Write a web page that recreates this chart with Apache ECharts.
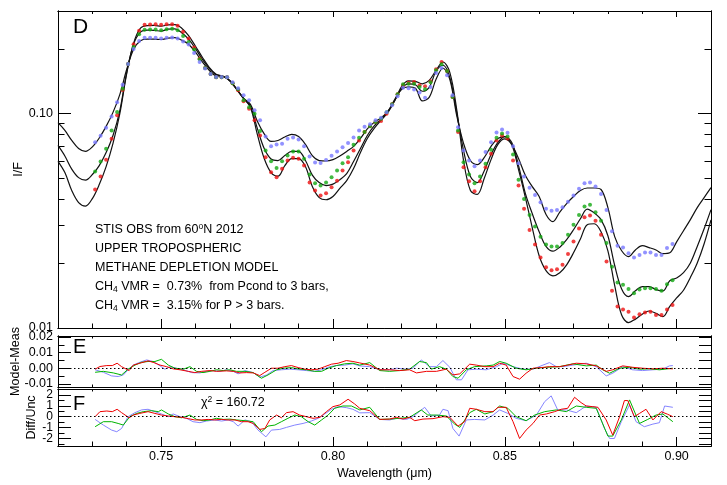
<!DOCTYPE html>
<html><head><meta charset="utf-8">
<script src="https://cdn.jsdelivr.net/npm/echarts@6.0.0/dist/echarts.min.js"></script>
<style>html,body{margin:0;padding:0;background:#fff}#c{width:727px;height:485px}</style>
</head><body><div id="c"></div>
<script>
// ---------- DATA ----------
const dotWl = [0.7308,0.7324,0.7340,0.7356,0.7372,0.7388,0.7404,0.7420,0.7436,0.7452,
0.7468,0.7484,0.7500,0.7516,0.7532,0.7548,0.7564,0.7580,0.7596,0.7612,
0.7628,0.7644,0.7660,0.7676,0.7692,0.7708,0.7724,0.7740,0.7756,0.7772,
0.7788,0.7804,0.7820,0.7836,0.7852,0.7868,0.7884,0.7900,0.7916,0.7932,
0.7948,0.7964,0.7980,0.7996,0.8012,0.8028,0.8044,0.8060,0.8076,0.8092,
0.8108,0.8124,0.8140,0.8156,0.8172,0.8188,0.8204,0.8220,0.8236,0.8252,
0.8268,0.8284,0.8300,0.8316,0.8332,0.8348,0.8364,0.8380,0.8396,0.8412,
0.8428,0.8444,0.8460,0.8476,0.8492,0.8508,0.8524,0.8540,0.8556,0.8572,
0.8588,0.8604,0.8620,0.8636,0.8652,0.8668,0.8684,0.8700,0.8716,0.8732,
0.8748,0.8764,0.8780,0.8796,0.8812,0.8828,0.8844,0.8860,0.8876,0.8892,
0.8908,0.8924,0.8940,0.8956,0.8972,0.8988];

const obsRed = [0.0442,0.0508,0.0608,0.0761,0.0979,0.1285,0.1699,0.2101,0.2425,0.2586,
0.2597,0.2600,0.2586,0.2600,0.2605,0.2558,0.2399,0.2234,0.2028,0.1800,
0.1628,0.1526,0.1473,0.1473,0.1473,0.1381,0.1281,0.1138,0.1052,0.0928,
0.0789,0.0625,0.0532,0.0504,0.0552,0.0603,0.0621,0.0614,0.0571,0.0477,
0.0437,0.0414,0.0424,0.0453,0.0486,0.0542,0.0592,0.0672,0.0748,0.0818,
0.0870,0.0911,0.0921,0.0997,0.1102,0.1227,0.1351,0.1391,0.1400,0.1351,
0.1337,0.1411,0.1605,0.1736,0.1577,0.1192,0.0818,0.0561,0.0483,0.0434,
0.0483,0.0561,0.0648,0.0748,0.0789,0.0764,0.0603,0.0461,0.0359,0.0286,
0.0245,0.0213,0.0192,0.0186,0.0188,0.0197,0.0221,0.0253,0.0291,0.0328,
0.0334,0.0316,0.0272,0.0204,0.0149,0.0126,0.0122,0.0119,0.0112,0.0116,
0.0118,0.0119,0.0115,0.0115,0.0122,0.0128];

const obsGreen = [0.0536,0.0597,0.0684,0.0833,0.1014,0.1304,0.1699,0.2040,0.2340,0.2451,
0.2461,0.2461,0.2443,0.2469,0.2478,0.2443,0.2297,0.2154,0.1985,0.1787,
0.1628,0.1526,0.1473,0.1473,0.1473,0.1381,0.1295,0.1150,0.1069,0.0997,
0.0827,0.0672,0.0598,0.0557,0.0598,0.0636,0.0665,0.0665,0.0614,0.0519,
0.0472,0.0461,0.0477,0.0504,0.0542,0.0585,0.0625,0.0714,0.0769,0.0818,
0.0870,0.0911,0.0945,0.1011,0.1102,0.1227,0.1366,0.1376,0.1376,0.1326,
0.1295,0.1396,0.1588,0.1694,0.1577,0.1192,0.0833,0.0592,0.0519,0.0472,
0.0508,0.0582,0.0677,0.0769,0.0806,0.0780,0.0643,0.0491,0.0399,0.0336,
0.0297,0.0266,0.0245,0.0240,0.0240,0.0249,0.0272,0.0303,0.0336,0.0368,
0.0375,0.0346,0.0316,0.0249,0.0193,0.0163,0.0159,0.0152,0.0145,0.0151,
0.0153,0.0153,0.0152,0.0149,0.0160,0.0167];

const obsBlue = [0.0734,0.0786,0.0858,0.0968,0.1126,0.1361,0.1699,0.1998,0.2177,0.2249,
0.2249,0.2249,0.2235,0.2249,0.2259,0.2235,0.2163,0.2094,0.1913,0.1736,
0.1617,0.1526,0.1478,0.1478,0.1473,0.1396,0.1309,0.1214,0.1150,0.1033,
0.0928,0.0780,0.0702,0.0717,0.0722,0.0761,0.0772,0.0756,0.0702,0.0630,
0.0590,0.0587,0.0606,0.0634,0.0665,0.0696,0.0728,0.0772,0.0833,0.0866,
0.0889,0.0928,0.0954,0.1011,0.1090,0.1201,0.1316,0.1310,0.1291,0.1250,
0.1184,0.1326,0.1542,0.1628,0.1505,0.1214,0.0863,0.0672,0.0603,0.0567,
0.0603,0.0660,0.0734,0.0815,0.0842,0.0812,0.0702,0.0585,0.0508,0.0450,
0.0417,0.0385,0.0359,0.0352,0.0355,0.0365,0.0388,0.0414,0.0445,0.0472,
0.0477,0.0456,0.0421,0.0355,0.0282,0.0242,0.0237,0.0223,0.0213,0.0219,
0.0225,0.0225,0.0219,0.0219,0.0236,0.0246];

const modelWl = [0.720,0.722,0.724,0.726,0.728,0.730,0.732,0.734,0.736,0.738,
0.740,0.742,0.744,0.746,0.748,0.750,0.752,0.754,0.756,0.758,
0.760,0.762,0.764,0.766,0.768,0.770,0.772,0.774,0.776,0.778,
0.780,0.782,0.784,0.786,0.788,0.790,0.792,0.794,0.796,0.798,
0.800,0.802,0.804,0.806,0.808,0.810,0.812,0.814,0.816,0.818,
0.820,0.822,0.824,0.826,0.828,0.830,0.832,0.834,0.836,0.838,
0.840,0.842,0.844,0.846,0.848,0.850,0.852,0.854,0.856,0.858,
0.860,0.862,0.864,0.866,0.868,0.870,0.872,0.874,0.876,0.878,
0.880,0.882,0.884,0.886,0.888,0.890,0.892,0.894,0.896,0.898,
0.900,0.902,0.904,0.906,0.908,0.910];

const modelBlue = [0.0905,0.0833,0.0748,0.0686,0.0665,0.0698,0.0768,0.0870,0.1011,0.1227,
0.1605,0.1991,0.2182,0.2217,0.2217,0.2210,0.2241,0.2253,0.2194,0.2101,
0.1928,0.1740,0.1588,0.1497,0.1489,0.1419,0.1295,0.1175,0.1102,0.0918,
0.0802,0.0740,0.0748,0.0776,0.0798,0.0780,0.0717,0.0636,0.0603,0.0600,
0.0609,0.0633,0.0665,0.0702,0.0764,0.0847,0.0908,0.0953,0.1022,0.1163,
0.1295,0.1329,0.1309,0.1143,0.1188,0.1441,0.1623,0.1441,0.0979,0.0725,
0.0603,0.0577,0.0622,0.0702,0.0764,0.0780,0.0717,0.0616,0.0513,0.0456,
0.0410,0.0338,0.0313,0.0347,0.0380,0.0410,0.0437,0.0449,0.0449,0.0442,
0.0364,0.0266,0.0229,0.0215,0.0231,0.0242,0.0237,0.0231,0.0222,0.0224,
0.0252,0.0284,0.0320,0.0364,0.0405,0.0451];

const modelGreen = [0.0709,0.0633,0.0550,0.0502,0.0489,0.0519,0.0571,0.0657,0.0789,0.1033,
0.1554,0.2101,0.2391,0.2443,0.2435,0.2417,0.2469,0.2478,0.2378,0.2217,
0.2002,0.1787,0.1623,0.1513,0.1489,0.1419,0.1295,0.1175,0.1078,0.0851,
0.0686,0.0613,0.0603,0.0636,0.0665,0.0665,0.0603,0.0516,0.0476,0.0461,
0.0468,0.0491,0.0524,0.0597,0.0686,0.0789,0.0874,0.0938,0.1022,0.1150,
0.1309,0.1374,0.1359,0.1268,0.1323,0.1571,0.1676,0.1473,0.1011,0.0672,
0.0508,0.0476,0.0539,0.0643,0.0733,0.0780,0.0733,0.0571,0.0423,0.0341,
0.0281,0.0240,0.0228,0.0238,0.0258,0.0287,0.0323,0.0358,0.0344,0.0320,
0.0269,0.0195,0.0152,0.0140,0.0149,0.0156,0.0156,0.0151,0.0149,0.0166,
0.0171,0.0181,0.0201,0.0240,0.0290,0.0356];

const modelRed = [0.0598,0.0530,0.0437,0.0384,0.0370,0.0401,0.0466,0.0565,0.0725,0.1000,
0.1537,0.2124,0.2495,0.2564,0.2569,0.2550,0.2583,0.2591,0.2495,0.2302,
0.2056,0.1826,0.1640,0.1521,0.1489,0.1419,0.1295,0.1175,0.1066,0.0798,
0.0616,0.0530,0.0510,0.0571,0.0616,0.0616,0.0565,0.0456,0.0405,0.0396,
0.0410,0.0447,0.0486,0.0553,0.0657,0.0764,0.0851,0.0928,0.1011,0.1150,
0.1337,0.1419,0.1411,0.1374,0.1426,0.1588,0.1736,0.1554,0.1044,0.0603,
0.0437,0.0419,0.0497,0.0609,0.0717,0.0760,0.0717,0.0547,0.0405,0.0293,
0.0217,0.0185,0.0175,0.0181,0.0197,0.0224,0.0260,0.0303,0.0306,0.0281,
0.0229,0.0157,0.0115,0.0106,0.0110,0.0116,0.0120,0.0117,0.0113,0.0126,
0.0138,0.0150,0.0172,0.0201,0.0247,0.0319];

// Panel E: model - measurement  [wavelength, value]
const eRed = [[0.7308,-0.0006],[0.7322,0.0011],[0.7342,0.0017],[0.7358,0.0017],[0.7372,0.0032],[0.7385,0.0010],[0.7407,-0.0015],[0.7419,0.0020],[0.7438,0.0032],[0.7462,0.0047],[0.7479,0.0036],[0.7497,0.0020],[0.7516,0.0010],[0.7535,-0.0004],[0.7555,-0.0010],[0.7579,-0.0020],[0.7598,-0.0028],[0.7618,-0.0020],[0.7642,-0.0015],[0.7661,-0.0020],[0.7690,-0.0017],[0.7710,-0.0020],[0.7729,-0.0030],[0.7749,-0.0028],[0.7768,-0.0030],[0.7787,-0.0047],[0.7802,-0.0026],[0.7821,0.0000],[0.7840,0.0000],[0.7860,0.0010],[0.7879,0.0017],[0.7899,0.0004],[0.7918,-0.0006],[0.7937,-0.0010],[0.7957,-0.0006],[0.7976,0.0010],[0.7996,0.0026],[0.8015,0.0032],[0.8039,0.0049],[0.8058,0.0043],[0.8078,0.0034],[0.8107,0.0020],[0.8136,-0.0010],[0.8165,-0.0010],[0.8194,-0.0015],[0.8223,-0.0010],[0.8243,-0.0030],[0.8272,-0.0020],[0.8301,-0.0020],[0.8330,-0.0006],[0.8349,-0.0043],[0.8369,-0.0036],[0.8398,0.0026],[0.8417,0.0020],[0.8442,0.0010],[0.8466,0.0010],[0.8485,0.0032],[0.8504,0.0020],[0.8524,-0.0053],[0.8543,-0.0070],[0.8562,-0.0032],[0.8582,0.0000],[0.8606,0.0004],[0.8630,0.0010],[0.8659,0.0010],[0.8683,0.0020],[0.8708,0.0032],[0.8737,0.0028],[0.8766,0.0015],[0.8795,-0.0020],[0.8814,-0.0010],[0.8843,0.0015],[0.8872,0.0006],[0.8901,0.0000],[0.8931,-0.0004],[0.8960,0.0000],[0.8989,-0.0004]];

const eGreen = [[0.7308,-0.0026],[0.7332,-0.0020],[0.7361,-0.0030],[0.7385,-0.0043],[0.7404,-0.0006],[0.7424,0.0020],[0.7443,0.0038],[0.7462,0.0043],[0.7482,0.0043],[0.7501,0.0057],[0.7521,0.0020],[0.7540,0.0000],[0.7565,-0.0006],[0.7584,0.0010],[0.7603,-0.0020],[0.7622,-0.0028],[0.7642,-0.0020],[0.7661,-0.0010],[0.7681,-0.0015],[0.7700,-0.0010],[0.7719,-0.0020],[0.7744,-0.0020],[0.7768,-0.0028],[0.7792,-0.0064],[0.7811,-0.0043],[0.7836,-0.0010],[0.7855,0.0000],[0.7879,0.0004],[0.7903,-0.0006],[0.7923,-0.0010],[0.7947,-0.0020],[0.7967,-0.0020],[0.7986,0.0000],[0.8010,0.0017],[0.8034,0.0028],[0.8058,0.0032],[0.8078,0.0020],[0.8107,0.0036],[0.8136,-0.0015],[0.8165,-0.0020],[0.8194,-0.0015],[0.8223,-0.0006],[0.8252,0.0043],[0.8272,0.0036],[0.8286,-0.0006],[0.8310,0.0010],[0.8330,-0.0006],[0.8349,-0.0053],[0.8364,-0.0064],[0.8388,-0.0010],[0.8412,0.0010],[0.8446,0.0015],[0.8466,0.0020],[0.8485,0.0043],[0.8504,0.0032],[0.8533,0.0000],[0.8562,-0.0010],[0.8592,0.0000],[0.8621,0.0006],[0.8659,0.0010],[0.8698,0.0028],[0.8737,0.0015],[0.8766,0.0020],[0.8785,-0.0010],[0.8805,-0.0032],[0.8834,0.0000],[0.8863,0.0006],[0.8892,-0.0006],[0.8921,-0.0004],[0.8950,-0.0010],[0.8989,0.0000]];

const eBlue = [[0.7308,-0.0010],[0.7332,-0.0026],[0.7356,-0.0049],[0.7375,-0.0053],[0.7390,-0.0043],[0.7404,-0.0010],[0.7419,0.0020],[0.7438,0.0038],[0.7458,0.0053],[0.7477,0.0043],[0.7497,0.0015],[0.7511,-0.0006],[0.7526,0.0010],[0.7545,0.0000],[0.7565,-0.0010],[0.7589,-0.0028],[0.7613,-0.0030],[0.7632,-0.0020],[0.7651,-0.0015],[0.7671,-0.0020],[0.7690,-0.0010],[0.7710,-0.0020],[0.7724,-0.0036],[0.7744,-0.0015],[0.7768,-0.0028],[0.7787,-0.0057],[0.7807,-0.0043],[0.7826,-0.0015],[0.7850,-0.0010],[0.7874,-0.0006],[0.7899,-0.0010],[0.7923,-0.0015],[0.7947,-0.0020],[0.7967,-0.0010],[0.7991,0.0010],[0.8010,0.0017],[0.8034,0.0020],[0.8058,0.0028],[0.8078,0.0015],[0.8107,0.0010],[0.8136,-0.0010],[0.8165,-0.0010],[0.8185,0.0000],[0.8214,-0.0006],[0.8233,0.0000],[0.8257,0.0053],[0.8281,0.0010],[0.8301,0.0010],[0.8320,0.0049],[0.8340,0.0006],[0.8359,-0.0074],[0.8374,-0.0074],[0.8393,-0.0010],[0.8417,-0.0006],[0.8446,-0.0010],[0.8476,0.0010],[0.8495,0.0032],[0.8524,0.0010],[0.8553,-0.0006],[0.8582,-0.0006],[0.8611,0.0020],[0.8630,0.0036],[0.8650,0.0010],[0.8669,0.0010],[0.8698,0.0020],[0.8737,0.0032],[0.8766,0.0010],[0.8795,-0.0049],[0.8814,-0.0032],[0.8843,0.0010],[0.8872,-0.0010],[0.8901,-0.0015],[0.8931,-0.0010],[0.8960,-0.0006],[0.8979,0.0015],[0.8989,0.0017]];

// Panel F: difference / uncertainty  [wavelength, value]
const fRed = [[0.7308,0.00],[0.7322,0.46],[0.7342,0.52],[0.7358,0.46],[0.7372,0.68],[0.7385,0.37],[0.7407,-0.10],[0.7419,0.15],[0.7438,0.30],[0.7462,0.46],[0.7482,0.30],[0.7501,0.15],[0.7521,0.06],[0.7540,0.00],[0.7560,-0.06],[0.7579,-0.18],[0.7598,-0.30],[0.7618,-0.30],[0.7637,-0.25],[0.7656,-0.30],[0.7676,-0.25],[0.7695,-0.30],[0.7715,-0.30],[0.7734,-0.46],[0.7753,-0.46],[0.7768,-0.62],[0.7787,-1.17],[0.7802,-1.08],[0.7816,-0.30],[0.7836,0.15],[0.7850,-0.10],[0.7865,0.37],[0.7884,0.46],[0.7903,0.15],[0.7923,0.00],[0.7942,-0.15],[0.7962,-0.06],[0.7981,0.46],[0.8000,0.92],[0.8020,1.08],[0.8044,1.60],[0.8063,1.17],[0.8078,0.77],[0.8107,0.55],[0.8136,-0.25],[0.8165,-0.22],[0.8185,-0.06],[0.8204,-0.22],[0.8223,-0.06],[0.8238,-0.37],[0.8262,-0.22],[0.8291,-0.18],[0.8320,0.00],[0.8340,-0.06],[0.8364,-0.86],[0.8383,-0.46],[0.8398,0.77],[0.8417,0.68],[0.8442,0.46],[0.8466,0.46],[0.8480,0.86],[0.8504,0.86],[0.8524,-0.46],[0.8543,-2.00],[0.8562,-1.23],[0.8582,-0.62],[0.8601,0.15],[0.8621,0.25],[0.8645,0.46],[0.8664,0.68],[0.8683,0.77],[0.8703,1.78],[0.8722,1.29],[0.8737,0.98],[0.8756,0.92],[0.8771,0.86],[0.8795,-0.30],[0.8814,-1.69],[0.8834,0.00],[0.8848,1.48],[0.8858,1.48],[0.8877,0.00],[0.8892,0.30],[0.8911,0.68],[0.8931,-0.30],[0.8955,0.46],[0.8974,0.22],[0.8989,0.00]];

const fGreen = [[0.7308,-0.92],[0.7332,-0.46],[0.7356,-0.46],[0.7375,-0.62],[0.7390,-0.77],[0.7409,0.00],[0.7429,0.30],[0.7448,0.46],[0.7472,0.55],[0.7492,0.46],[0.7501,0.62],[0.7521,0.25],[0.7540,0.00],[0.7560,-0.10],[0.7584,0.15],[0.7603,-0.25],[0.7622,-0.37],[0.7642,-0.30],[0.7661,-0.15],[0.7681,-0.25],[0.7700,-0.22],[0.7719,-0.30],[0.7744,-0.37],[0.7768,-0.46],[0.7792,-1.38],[0.7811,-0.86],[0.7831,-0.77],[0.7850,-0.46],[0.7869,-0.15],[0.7889,0.15],[0.7908,0.00],[0.7928,-0.46],[0.7947,-0.77],[0.7967,-0.30],[0.7986,0.15],[0.8005,0.77],[0.8029,0.98],[0.8054,0.98],[0.8078,0.62],[0.8107,0.86],[0.8136,-0.25],[0.8165,-0.22],[0.8194,-0.15],[0.8223,-0.06],[0.8257,0.62],[0.8276,0.15],[0.8301,0.15],[0.8330,0.06],[0.8354,-0.68],[0.8369,-0.98],[0.8398,0.37],[0.8417,0.68],[0.8442,0.25],[0.8466,0.46],[0.8485,0.98],[0.8509,0.77],[0.8533,0.00],[0.8562,-0.37],[0.8587,0.15],[0.8616,0.46],[0.8650,0.62],[0.8679,0.46],[0.8708,0.98],[0.8737,0.86],[0.8766,0.77],[0.8800,-1.78],[0.8814,-1.78],[0.8839,-0.30],[0.8863,1.54],[0.8892,-0.62],[0.8916,-0.25],[0.8940,0.15],[0.8960,0.25],[0.8989,-0.46]];

const fBlue = [[0.7308,-0.25],[0.7332,-0.77],[0.7356,-1.23],[0.7371,-1.38],[0.7385,-1.08],[0.7404,0.00],[0.7424,0.37],[0.7443,0.62],[0.7462,0.68],[0.7482,0.46],[0.7501,0.25],[0.7521,0.00],[0.7535,0.25],[0.7555,0.00],[0.7574,-0.15],[0.7593,-0.46],[0.7613,-0.55],[0.7632,-0.40],[0.7656,-0.30],[0.7676,-0.40],[0.7695,-0.30],[0.7710,-0.46],[0.7724,-0.86],[0.7744,-0.30],[0.7763,-0.46],[0.7782,-1.23],[0.7805,-1.85],[0.7821,-1.23],[0.7845,-1.17],[0.7865,-0.98],[0.7889,-0.77],[0.7913,-0.62],[0.7937,-0.40],[0.7957,-0.15],[0.7976,0.25],[0.7996,0.68],[0.8015,0.92],[0.8039,0.83],[0.8058,0.68],[0.8078,0.35],[0.8107,0.37],[0.8136,-0.25],[0.8165,-0.30],[0.8185,-0.15],[0.8214,-0.25],[0.8233,0.00],[0.8267,0.86],[0.8286,0.06],[0.8310,0.15],[0.8320,0.68],[0.8335,0.55],[0.8349,-1.08],[0.8367,-1.78],[0.8388,-0.30],[0.8412,-0.25],[0.8442,-0.30],[0.8466,0.15],[0.8485,0.62],[0.8509,0.30],[0.8533,-0.15],[0.8562,-0.37],[0.8592,0.15],[0.8616,1.38],[0.8635,1.91],[0.8654,0.62],[0.8679,0.62],[0.8708,0.37],[0.8737,0.98],[0.8766,0.86],[0.8790,-1.08],[0.8805,-2.00],[0.8819,-2.00],[0.8839,-0.46],[0.8863,1.08],[0.8882,-0.46],[0.8906,-0.92],[0.8931,-0.68],[0.8950,-0.55],[0.8965,0.98],[0.8989,0.86]];

// Tick values / labels
const xMajorTicks = [0.75, 0.80, 0.85, 0.90];
const xMinorTicks = [0.72,0.73,0.74,0.76,0.77,0.78,0.79,0.81,0.82,0.83,0.84,0.86,0.87,0.88,0.89,0.91];
const logMajorTicks = [0.01, 0.1];
const logMinorTicks = [0.02,0.03,0.04,0.05,0.06,0.07,0.08,0.09,0.2,0.3];
const eMajorTicks = [-0.01, 0.00, 0.01, 0.02];
const eMinorTicks = [-0.005, 0.005, 0.015];
const fMajorTicks = [-2, -1, 0, 1, 2];
const fMinorTicks = [-2.5, -1.5, -0.5, 0.5, 1.5, 2.5];
const fLabelsEven = [-2, 0, 2];
const fLabelsOdd = [-1, 1];

// ---------- CHART ----------
const FONT = '"Liberation Sans", Arial, Helvetica, sans-serif';
const AXC = {color:'#000', width:1};
const RED = '#ee1111', GREEN = '#12a812', BLUE = '#7777ff';
const RRED = '#ee0000', RGREEN = '#00b400', RBLUE = '#8585ff';

function xAx(grid, pos, ticks, len, labels, extra) {
  return Object.assign({
    type:'value', gridIndex:grid, position:pos, min:0.72, max:0.91,
    axisLine:{show:true, onZero:false, lineStyle:AXC},
    axisTick:{show:true, inside:true, length:len, customValues:ticks, lineStyle:AXC},
    axisLabel:{show:!!labels, customValues:labels || ticks, formatter:v => v.toFixed(2),
      color:'#000', fontFamily:FONT, fontSize:12.5, margin:4, hideOverlap:false},
    splitLine:{show:false}, minorTick:{show:false}
  }, extra || {});
}
function yAx(grid, pos, type, min, max, ticks, len, labels, fmt, extra, fs) {
  const o = {
    type:type, gridIndex:grid, position:pos, min:min, max:max,
    axisLine:{show:true, onZero:false, lineStyle:AXC},
    axisTick:{show:true, inside:true, length:len, customValues:ticks, lineStyle:AXC},
    axisLabel:{show:!!labels, customValues:labels || ticks, formatter:fmt,
      color:'#000', fontFamily:FONT, fontSize:fs || 12.5, margin:5, hideOverlap:false,
      showMinLabel:true, showMaxLabel:true},
    splitLine:{show:false}, minorTick:{show:false}
  };
  if (type === 'log') o.logBase = 10;
  return Object.assign(o, extra || {});
}
const nameStyle = {color:'#000', fontFamily:FONT, fontSize:12.5};

const xAxes = [
  xAx(0,'bottom',xMajorTicks,9), xAx(0,'bottom',xMinorTicks,4.5),
  xAx(0,'top',xMajorTicks,6), xAx(0,'top',xMinorTicks,3),
  xAx(1,'bottom',xMajorTicks,5), xAx(1,'bottom',xMinorTicks,2.5),
  xAx(1,'top',xMajorTicks,5), xAx(1,'top',xMinorTicks,2.5),
  xAx(2,'bottom',xMajorTicks,9,xMajorTicks,{name:'Wavelength (\u03bcm)',nameLocation:'middle',nameGap:21,nameTextStyle:nameStyle,nameMoveOverlap:false}),
  xAx(2,'bottom',xMinorTicks,4.5),
  xAx(2,'top',xMajorTicks,5), xAx(2,'top',xMinorTicks,2.5)
];
const fmt2 = v => Number(v).toFixed(2);
const fmt0 = v => String(Math.round(v));
const yAxes = [
  yAx(0,'left','log',0.01,0.3,logMajorTicks,13,logMajorTicks,fmt2,{name:'I/F',nameLocation:'middle',nameGap:33,nameTextStyle:nameStyle,nameMoveOverlap:false}),
  yAx(0,'left','log',0.01,0.3,logMinorTicks,6.5),
  yAx(0,'right','log',0.01,0.3,logMajorTicks,13),
  yAx(0,'right','log',0.01,0.3,logMinorTicks,6.5),
  yAx(1,'left','value',-0.012,0.0206,eMajorTicks,13,eMajorTicks,fmt2,{name:'Model-Meas',nameLocation:'middle',nameGap:36,nameTextStyle:nameStyle,nameMoveOverlap:false}),
  yAx(1,'left','value',-0.012,0.0206,eMinorTicks,6.5),
  yAx(1,'right','value',-0.012,0.0206,eMajorTicks,12),
  yAx(1,'right','value',-0.012,0.0206,eMinorTicks,12),
  yAx(2,'left','value',-2.69,2.54,fMajorTicks,13,fLabelsEven,fmt0,{name:'Diff/Unc',nameLocation:'middle',nameGap:20,nameTextStyle:nameStyle,nameMoveOverlap:false},12),
  yAx(2,'left','value',-2.69,2.54,fMinorTicks,6.5,fLabelsOdd,fmt0,null,12),
  yAx(2,'right','value',-2.69,2.54,fMajorTicks,12),
  yAx(2,'right','value',-2.69,2.54,fMinorTicks,12)
];

const pair = (xs, ys) => xs.map((x, i) => [x, ys[i]]);
function modelLine(ys) {
  return {type:'line', xAxisIndex:0, yAxisIndex:0, data:pair(modelWl, ys), showSymbol:false,
    smooth:0.35, lineStyle:{color:'#111', width:1.2}, z:2, silent:true};
}
function dots(ys, color) {
  return {type:'scatter', xAxisIndex:0, yAxisIndex:0, data:pair(dotWl, ys), symbol:'circle',
    symbolSize:4, itemStyle:{color:color}, z:3, silent:true};
}
const zeroLine = {symbol:'none', silent:true, label:{show:false},
  lineStyle:{type:[1.5,2.5], color:'#000', width:1}, data:[{yAxis:0}]};
function resid(data, color, xi, yi, withZero) {
  const s = {type:'line', xAxisIndex:xi, yAxisIndex:yi, data:data, showSymbol:false,
    lineStyle:{color:color, width:1}, z:2, silent:true};
  if (withZero) s.markLine = zeroLine;
  return s;
}

const grids = [
  {left:58, right:16, top:11, height:317, outerBoundsMode:'none', containLabel:false},
  {left:58, right:16, top:336, height:51, outerBoundsMode:'none', containLabel:false},
  {left:58, right:16, top:389, height:57, outerBoundsMode:'none', containLabel:false}
];

const txt = (s, x, y, size, rich) => ({type:'text', z:50, silent:true,
  style:{text:s, x:x, y:y, font:size + 'px ' + FONT, fill:'#000',
    align:'left', verticalAlign:'middle', textAlign:'left', textVerticalAlign:'middle',
    lineHeight:14, rich:rich || {}}});
const rich = {
  sub:{fontSize:8.5, fontFamily:FONT, lineHeight:8, verticalAlign:'bottom', fill:'#000'},
  sup:{fontSize:8.5, fontFamily:FONT, lineHeight:8, verticalAlign:'top', fill:'#000'}
};

const option = {
  animation:false,
  backgroundColor:'#fff',
  grid:grids,
  xAxis:xAxes,
  yAxis:yAxes,
  series:[
    modelLine(modelBlue), modelLine(modelGreen), modelLine(modelRed),
    dots(obsRed, RED), dots(obsGreen, GREEN), dots(obsBlue, BLUE),
    resid(eBlue, RBLUE, 4, 4, true), resid(eGreen, RGREEN, 4, 4, false), resid(eRed, RRED, 4, 4, false),
    resid(fBlue, RBLUE, 8, 8, true), resid(fGreen, RGREEN, 8, 8, false), resid(fRed, RRED, 8, 8, false)
  ],
  graphic:[
    txt('D', 73, 27, 21),
    txt('E', 73, 347.5, 20),
    txt('F', 73, 404, 20),
    txt('STIS OBS from 60{sup|o}N 2012', 95, 229.5, 12.5, rich),
    txt('UPPER TROPOSPHERIC', 95, 248.5, 12.5, rich),
    txt('METHANE DEPLETION MODEL', 95, 267.5, 12.5, rich),
    txt('CH{sub|4} VMR =  0.73%  from Pcond to 3 bars,', 95, 286.7, 12.5, rich),
    txt('CH{sub|4} VMR =  3.15% for P > 3 bars.', 95, 306, 12.5, rich),
    txt('\u03c7{sup|2} = 160.72', 201, 402.5, 12.5, rich)
  ]
};
const chart = echarts.init(document.getElementById('c'), null, {renderer:'canvas', width:727, height:485});
chart.setOption(option);
</script></body></html>
